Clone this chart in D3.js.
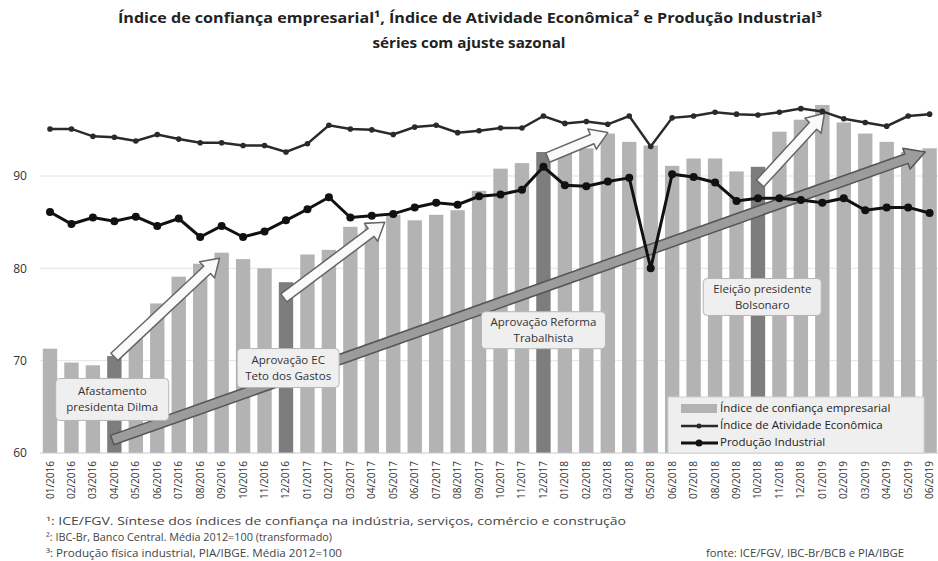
<!DOCTYPE html>
<html lang="pt">
<head>
  <meta charset="utf-8">
  <title>Índice de confiança empresarial</title>
  <script src="https://d3js.org/d3.v7.min.js"></script>
  <style>
  body { margin: 0; background: #fff; }
  text { font-family: "Open Sans", "DejaVu Sans", sans-serif; }
  </style>
</head>
<body>
<div id="chart"></div>
<script>
// months 01/2016 .. 06/2019
var months = [];
for (var yr = 2016; yr <= 2019; yr++) {
  for (var m = 1; m <= 12; m++) {
    if (yr == 2019 && m > 6) break;
    months.push((m < 10 ? "0" : "") + m + "/" + yr);
  }
}

// ICE/FGV confidence (bars)
var confianca = [71.3, 69.8, 69.5, 70.5, 72.4, 76.2, 79.1, 80.5, 81.7, 81.0, 80.0, 78.5,
  81.5, 82.0, 84.5, 85.0, 85.8, 85.2, 85.8, 86.3, 88.4, 90.8, 91.4, 92.6,
  92.9, 93.0, 94.6, 93.7, 93.3, 91.1, 91.9, 91.9, 90.5, 91.0, 94.8, 96.1,
  97.7, 95.8, 94.6, 93.7, 92.6, 93.0];
// IBC-Br (transformado)
var atividade = [95.1, 95.1, 94.3, 94.2, 93.8, 94.5, 94.0, 93.6, 93.6, 93.3, 93.3, 92.6,
  93.5, 95.5, 95.1, 95.0, 94.5, 95.3, 95.5, 94.7, 94.9, 95.2, 95.2, 96.5,
  95.7, 95.9, 95.6, 96.5, 93.2, 96.3, 96.5, 96.9, 96.7, 96.6, 96.9, 97.3,
  97.0, 96.2, 95.8, 95.4, 96.5, 96.7];
// Produção industrial
var producao = [86.1, 84.8, 85.5, 85.1, 85.6, 84.6, 85.4, 83.4, 84.6, 83.4, 84.0, 85.2,
  86.4, 87.7, 85.5, 85.7, 85.9, 86.6, 87.1, 86.9, 87.8, 88.0, 88.5, 91.0,
  89.0, 88.9, 89.4, 89.8, 80.0, 90.2, 89.9, 89.3, 87.3, 87.6, 87.6, 87.4,
  87.1, 87.6, 86.3, 86.6, 86.6, 86.0];
// highlighted months (events)
var destaques = ["04/2016", "12/2016", "12/2017", "10/2018"];
var yTicks = [60, 70, 80, 90];

// annotation arrows: [month index, value] from -> to
var setas = [
  {from: [3.0, 70.4], to: [7.9, 81.1]},
  {from: [10.9, 76.8], to: [15.6, 85.0]},
  {from: [23.2, 92.0], to: [26.0, 94.7]},
  {from: [33.1, 89.2], to: [36.1, 96.8]}
];
var setaLonga = {from: [2.9, 61.4], to: [40.8, 92.6]};
var rotulos = [
  {pos: [2.9, 65.8], w: 113, h: 42, linhas: ["Afastamento", "presidenta Dilma"]},
  {pos: [11.1, 69.2], w: 102, h: 39, linhas: ["Aprovação EC", "Teto dos Gastos"]},
  {pos: [23.0, 73.3], w: 124, h: 37, linhas: ["Aprovação Reforma", "Trabalhista"]},
  {pos: [33.2, 76.9], w: 118, h: 37, linhas: ["Eleição presidente", "Bolsonaro"]}
];
var legenda = ["Índice de confiança empresarial", "Índice de Atividade Econômica", "Produção Industrial"];
var notas = [
  "¹: ICE/FGV.  Síntese  dos  índices de confiança na indústria, serviços, comércio e construção",
  "²: IBC-Br, Banco Central.  Média 2012=100 (transformado)",
  "³: Produção física industrial, PIA/IBGE.  Média 2012=100"
];
var notasLarg = [580, 286, 296];

var W = 938, H = 561;
var svg = d3.select("#chart").append("svg")
  .attr("width", W).attr("height", H);

var x = d3.scaleBand()
  .domain(months)
  .range([39.6, 940])
  .paddingInner(0.33)
  .paddingOuter(0.15);
var y = d3.scaleLinear()
  .domain([60, 100])
  .range([453, 83.7]);

function xAt(i) { return x(months[0]) + x.bandwidth() / 2 + i * x.step(); }

// title
svg.append("text")
  .attr("x", 470).attr("y", 23)
  .attr("text-anchor", "middle")
  .attr("textLength", 704).attr("lengthAdjust", "spacingAndGlyphs")
  .style("font-size", "15px").style("font-weight", "bold").attr("fill", "#222")
  .text("Índice de confiança empresarial¹, Índice de Atividade Econômica² e Produção Industrial³");
svg.append("text")
  .attr("x", 469).attr("y", 48)
  .attr("text-anchor", "middle")
  .attr("textLength", 193).attr("lengthAdjust", "spacingAndGlyphs")
  .style("font-size", "15px").style("font-weight", "bold").attr("fill", "#222")
  .text("séries com ajuste sazonal");

// gridlines
svg.append("g").selectAll("line")
  .data(yTicks.slice(1))
  .enter().append("line")
    .attr("x1", 40).attr("x2", 938)
    .attr("y1", function(d) { return y(d); }).attr("y2", function(d) { return y(d); })
    .attr("stroke", "#e4e4e4").attr("stroke-width", 1);

// y axis labels
var yAxis = svg.append("g")
  .attr("transform", "translate(30,0)")
  .call(d3.axisLeft(y).tickValues(yTicks).tickSize(0).tickPadding(0));
yAxis.select(".domain").remove();
yAxis.selectAll("text")
  .attr("text-anchor", "middle").attr("dx", "-10")
  .style("font-size", "12px").attr("fill", "#333");

// bars
svg.append("g").selectAll("rect")
  .data(confianca)
  .enter().append("rect")
    .attr("x", function(d, i) { return x(months[i]); })
    .attr("y", function(d) { return y(d); })
    .attr("width", x.bandwidth())
    .attr("height", function(d) { return y(60) - y(d); })
    .attr("fill", function(d, i) { return destaques.indexOf(months[i]) >= 0 ? "#7d7d7d" : "#b3b3b3"; });

// baseline
svg.append("line")
  .attr("x1", 40).attr("x2", 938)
  .attr("y1", y(60)).attr("y2", y(60))
  .attr("stroke", "#c8c8c8");

// x axis labels
var xAxis = svg.append("g")
  .attr("transform", "translate(0," + y(60) + ")")
  .call(d3.axisBottom(x).tickSize(0).tickPadding(0));
xAxis.select(".domain").remove();
xAxis.selectAll("text")
  .attr("transform", "rotate(-90)")
  .attr("x", -8).attr("y", 0).attr("dy", "0.35em")
  .attr("text-anchor", "end")
  .style("font-size", "10px").attr("fill", "#333");

// arrow polygon in pixel space
function arrowPath(p0, p1, shaft, head, headLen) {
  var dx = p1[0] - p0[0], dy = p1[1] - p0[1];
  var L = Math.sqrt(dx * dx + dy * dy);
  var ux = dx / L, uy = dy / L, nx = -uy, ny = ux;
  var b = [p1[0] - ux * headLen, p1[1] - uy * headLen];
  var pts = [
    [p0[0] + nx * shaft / 2, p0[1] + ny * shaft / 2],
    [b[0] + nx * shaft / 2, b[1] + ny * shaft / 2],
    [b[0] + nx * head / 2, b[1] + ny * head / 2],
    p1,
    [b[0] - nx * head / 2, b[1] - ny * head / 2],
    [b[0] - nx * shaft / 2, b[1] - ny * shaft / 2],
    [p0[0] - nx * shaft / 2, p0[1] - ny * shaft / 2]
  ];
  return "M" + pts.map(function(p) { return p[0].toFixed(1) + "," + p[1].toFixed(1); }).join("L") + "Z";
}
function px(p) { return [xAt(p[0]), y(p[1])]; }

// long arrow
svg.append("path")
  .attr("d", arrowPath(px(setaLonga.from), px(setaLonga.to), 10, 22, 20))
  .attr("fill", "#9c9c9c").attr("stroke", "#555").attr("stroke-width", 1.5)
  .attr("stroke-linejoin", "round");

// white arrows
svg.append("g").selectAll("path")
  .data(setas)
  .enter().append("path")
    .attr("d", function(d) { return arrowPath(px(d.from), px(d.to), 10, 22, 17); })
    .attr("fill", "#fafafa").attr("stroke", "#666").attr("stroke-width", 1.5)
    .attr("stroke-linejoin", "round");

// label boxes
var rot = svg.append("g").selectAll("g")
  .data(rotulos)
  .enter().append("g")
    .attr("transform", function(d) { return "translate(" + xAt(d.pos[0]) + "," + y(d.pos[1]) + ")"; });
rot.append("rect")
  .attr("x", function(d) { return -d.w / 2; }).attr("y", function(d) { return -d.h / 2; })
  .attr("width", function(d) { return d.w; }).attr("height", function(d) { return d.h; })
  .attr("rx", 4)
  .attr("fill", "#efefef").attr("stroke", "#b5b5b5");
rot.each(function(d) {
  var g = d3.select(this);
  d.linhas.forEach(function(t, k) {
    g.append("text")
      .attr("x", 0).attr("y", (k - 0.5) * 16 + 4)
      .attr("text-anchor", "middle")
      .style("font-size", "11.5px").attr("fill", "#333")
      .text(t);
  });
});

// lines
var line = d3.line()
  .x(function(d, i) { return x(months[i]) + x.bandwidth() / 2; })
  .y(function(d) { return y(d); });

svg.append("path").datum(atividade)
  .attr("d", line).attr("fill", "none")
  .attr("stroke", "#2a2a2a").attr("stroke-width", 2.5);
svg.append("g").selectAll("circle")
  .data(atividade)
  .enter().append("circle")
    .attr("cx", function(d, i) { return x(months[i]) + x.bandwidth() / 2; })
    .attr("cy", function(d) { return y(d); })
    .attr("r", 2.8).attr("fill", "#2a2a2a");

svg.append("path").datum(producao)
  .attr("d", line).attr("fill", "none")
  .attr("stroke", "#111").attr("stroke-width", 3);
svg.append("g").selectAll("circle")
  .data(producao)
  .enter().append("circle")
    .attr("cx", function(d, i) { return x(months[i]) + x.bandwidth() / 2; })
    .attr("cy", function(d) { return y(d); })
    .attr("r", 4).attr("fill", "#111");

// legend
var leg = svg.append("g").attr("transform", "translate(668,397)");
leg.append("rect")
  .attr("width", 256).attr("height", 56)
  .attr("fill", "#efefef").attr("stroke", "#d0d0d0");
leg.append("rect")
  .attr("x", 13).attr("y", 7).attr("width", 36).attr("height", 9)
  .attr("fill", "#b3b3b3");
leg.append("line")
  .attr("x1", 13).attr("x2", 50).attr("y1", 29).attr("y2", 29)
  .attr("stroke", "#2a2a2a").attr("stroke-width", 2.5);
leg.append("circle").attr("cx", 31).attr("cy", 29).attr("r", 2.5).attr("fill", "#2a2a2a");
leg.append("line")
  .attr("x1", 13).attr("x2", 50).attr("y1", 46).attr("y2", 46)
  .attr("stroke", "#111").attr("stroke-width", 3);
leg.append("circle").attr("cx", 31).attr("cy", 46).attr("r", 3.5).attr("fill", "#111");
leg.selectAll("text.lg")
  .data(legenda)
  .enter().append("text")
    .attr("class", "lg")
    .attr("x", 52).attr("y", function(d, i) { return 15 + i * 17; })
    .style("font-size", "11.5px").attr("fill", "#222")
    .text(function(d) { return d; });

// footnotes
svg.append("g").selectAll("text")
  .data(notas)
  .enter().append("text")
    .attr("x", 46).attr("y", function(d, i) { return 525 + i * 16; })
    .attr("textLength", function(d, i) { return notasLarg[i]; })
    .attr("lengthAdjust", "spacingAndGlyphs")
    .style("font-size", "10px").attr("fill", "#444")
    .text(function(d) { return d; });
svg.append("text")
  .attr("x", 706).attr("y", 557)
  .attr("textLength", 198).attr("lengthAdjust", "spacingAndGlyphs")
  .style("font-size", "10px").attr("fill", "#444")
  .text("fonte: ICE/FGV, IBC-Br/BCB e PIA/IBGE");
</script>
</body>
</html>
